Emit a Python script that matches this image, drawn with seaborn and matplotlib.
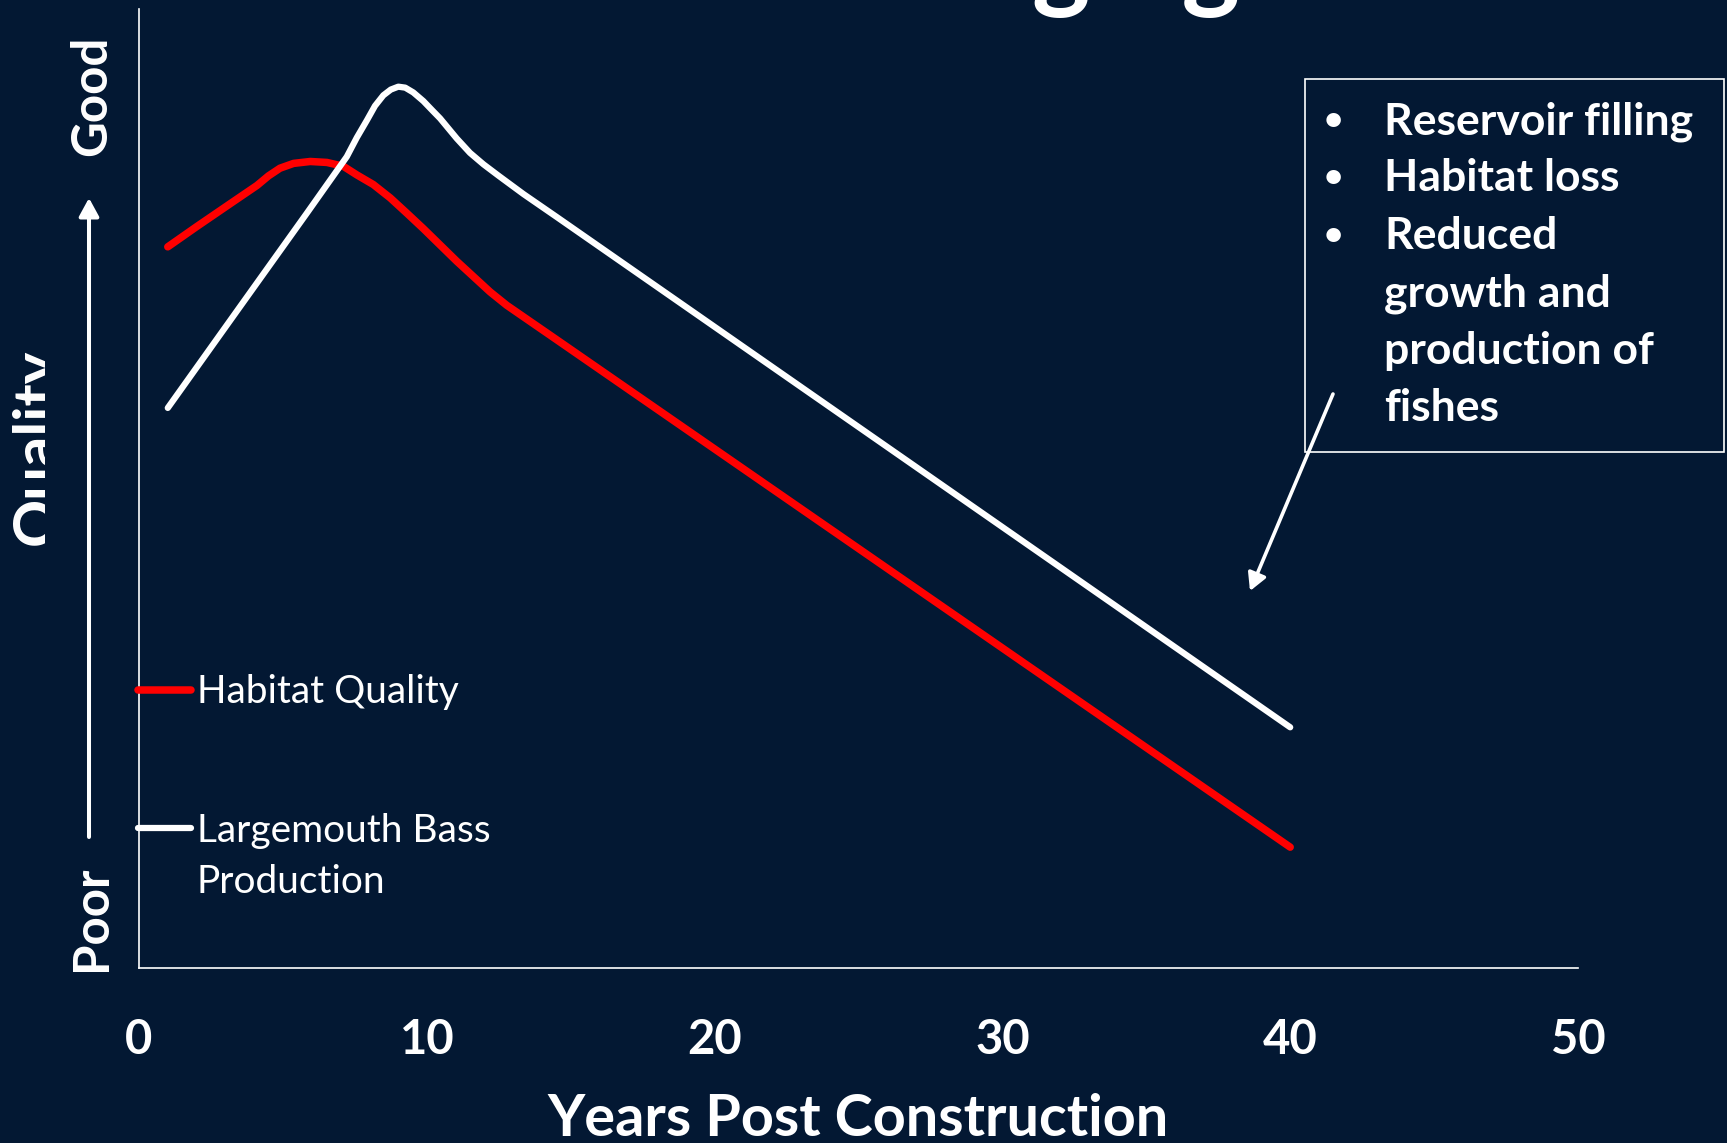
import matplotlib
matplotlib.use("Agg")
import matplotlib.pyplot as plt
import pandas as pd
import seaborn as sns
from matplotlib.lines import Line2D
from matplotlib.patches import Rectangle
from matplotlib.transforms import Bbox, TransformedBbox

# ---- data -------------------------------------------------------------
habitat_years = [1, 2.0, 3.17, 4.10, 4.50, 4.90, 5.37, 5.95, 6.53, 7.10, 7.57, 8.14,
                 8.73, 9.31, 9.88, 10.46, 11.04, 11.62, 12.20, 12.78, 14.52, 40]
habitat_quality = [75.2, 77.3, 79.7, 81.6, 82.6, 83.4, 83.9, 84.1, 84.0, 83.6, 82.7, 81.7,
                   80.3, 78.7, 77.1, 75.4, 73.7, 72.1, 70.5, 69.1, 65.5, 12.6]

bass_years = [1, 3.52, 5.83, 7.22, 7.57, 7.92, 8.20, 8.49, 8.75, 9.01, 9.25, 9.53,
              9.88, 10.20, 10.46, 11.04, 11.50, 11.97, 12.50, 13.36, 14.52, 40]
bass_production = [58.4, 69.0, 78.7, 84.6, 86.6, 88.4, 89.9, 91.0, 91.6, 91.9, 91.8, 91.3,
                   90.4, 89.4, 88.6, 86.5, 85.0, 83.8, 82.6, 80.7, 78.3, 25.1]

series_names = ["Habitat Quality", "Largemouth Bass Production"]
series_colors = ["#ff0000", "#ffffff"]
legend_lines = [["Habitat Quality"], ["Largemouth Bass", "Production"]]
x_ticks = [0, 10, 20, 30, 40, 50]
box_lines = ["Reservoir filling", "Habitat loss", "Reduced",
             "growth and", "production of", "fishes"]
bullet_rows = [0, 1, 2]
title_text = "Reservoir Aging"

BG = "#031833"
W, H = 1727, 1143


def fx(px):
    return px / W


def fy(py):
    return 1 - py / H


sns.set_theme(style="white")
plt.rcParams["font.family"] = ["Lato", "DejaVu Sans"]

fig = plt.figure(figsize=(W / 100, H / 100), dpi=100, facecolor=BG)
ax = fig.add_axes([fx(139), fy(968), (1578 - 139) / W, (968 - 9) / H])
ax.set_facecolor(BG)

df = pd.concat([
    pd.DataFrame({"year": habitat_years, "value": habitat_quality, "series": series_names[0]}),
    pd.DataFrame({"year": bass_years, "value": bass_production, "series": series_names[1]}),
])

widths = [5.4, 4.5]
for name, col, lw in zip(series_names, series_colors, widths):
    sns.lineplot(data=df[df["series"] == name], x="year", y="value", color=col,
                 lw=lw, ax=ax, legend=False, errorbar=None,
                 solid_capstyle="round", solid_joinstyle="round")

ax.set_xlim(0, 50)
ax.set_ylim(0, 100)
ax.set_xticks(x_ticks)
ax.set_yticks([])
ax.set_ylabel("")
ax.tick_params(axis="x", length=0, pad=36, labelsize=34, labelcolor="white")
for lab in ax.get_xticklabels():
    lab.set_fontweight("bold")
for side in ("top", "right"):
    ax.spines[side].set_visible(False)
for side in ("left", "bottom"):
    ax.spines[side].set_color("white")
    ax.spines[side].set_linewidth(1.2)

ax.set_xlabel("Years Post Construction", fontsize=41.5, fontweight="bold", color="white")
ax.xaxis.set_label_coords(0.5, -(1136 - 968) / (968 - 9))
ax.xaxis.label.set_va("baseline")

# ---- title (runs off the top edge) -----------------------------------
fig.text(fx(1240), 1 + 2 / H, title_text, ha="right", va="baseline",
         fontsize=80, fontweight="bold", color="white")

# ---- quality scale on the left ---------------------------------------
q = fig.text(fx(55), fy(447), "Quality", rotation=90, rotation_mode="anchor",
             ha="center", va="baseline", fontsize=43, fontweight="bold", color="white")
q.set_clip_box(TransformedBbox(Bbox([[0, 0], [45 / W, 1]]), fig.transFigure))
q.set_clip_on(True)
fig.text(fx(106), fy(96), "Good", rotation=90, rotation_mode="anchor",
         ha="center", va="baseline", fontsize=35.5, fontweight="bold", color="white")
fig.text(fx(106), fy(918), "Poor", rotation=90, rotation_mode="anchor",
         ha="center", va="baseline", fontsize=35.5, fontweight="bold", color="white")
ax.annotate("", xy=(89, H - 198), xytext=(89, H - 837),
            xycoords="figure pixels", textcoords="figure pixels",
            arrowprops=dict(arrowstyle="-|>,head_length=0.55,head_width=0.3",
                            color="white", lw=2.9, shrinkA=0, shrinkB=0,
                            mutation_scale=20),
            annotation_clip=False)

# ---- legend keys ------------------------------------------------------
key_rows = [690, 828]
text_baselines = [[703], [842, 893]]
for col, lw, row, lines, bases in zip(series_colors, widths, key_rows,
                                      legend_lines, text_baselines):
    fig.add_artist(Line2D([fx(138), fx(191)], [fy(row), fy(row)], color=col,
                          lw=lw, solid_capstyle="round", transform=fig.transFigure))
    for line, b in zip(lines, bases):
        fig.text(fx(197), fy(b), line, fontsize=28, color="white", va="baseline")

# ---- call-out box -----------------------------------------------------
fig.add_artist(Rectangle((fx(1305), fy(452)), (1724 - 1305) / W, (452 - 79) / H,
                         transform=fig.transFigure, fill=False,
                         ec="white", lw=1.2))
for i, line in enumerate(box_lines):
    base = 134 + i * 57.4
    if i in bullet_rows:
        fig.text(fx(1333), fy(base - 4), "\u2022", ha="center", va="baseline",
                 fontsize=24, fontweight="bold", color="white")
    fig.text(fx(1384), fy(base), line, ha="left", va="baseline",
             fontsize=32, fontweight="bold", color="white")

ax.annotate("", xy=(1250, H - 591), xytext=(1333, H - 394),
            xycoords="figure pixels", textcoords="figure pixels",
            arrowprops=dict(arrowstyle="-|>,head_length=0.55,head_width=0.3",
                            color="white", lw=2.6, shrinkA=0, shrinkB=0,
                            mutation_scale=19),
            annotation_clip=False)

fig.savefig("out.png", dpi=100, facecolor=BG)
